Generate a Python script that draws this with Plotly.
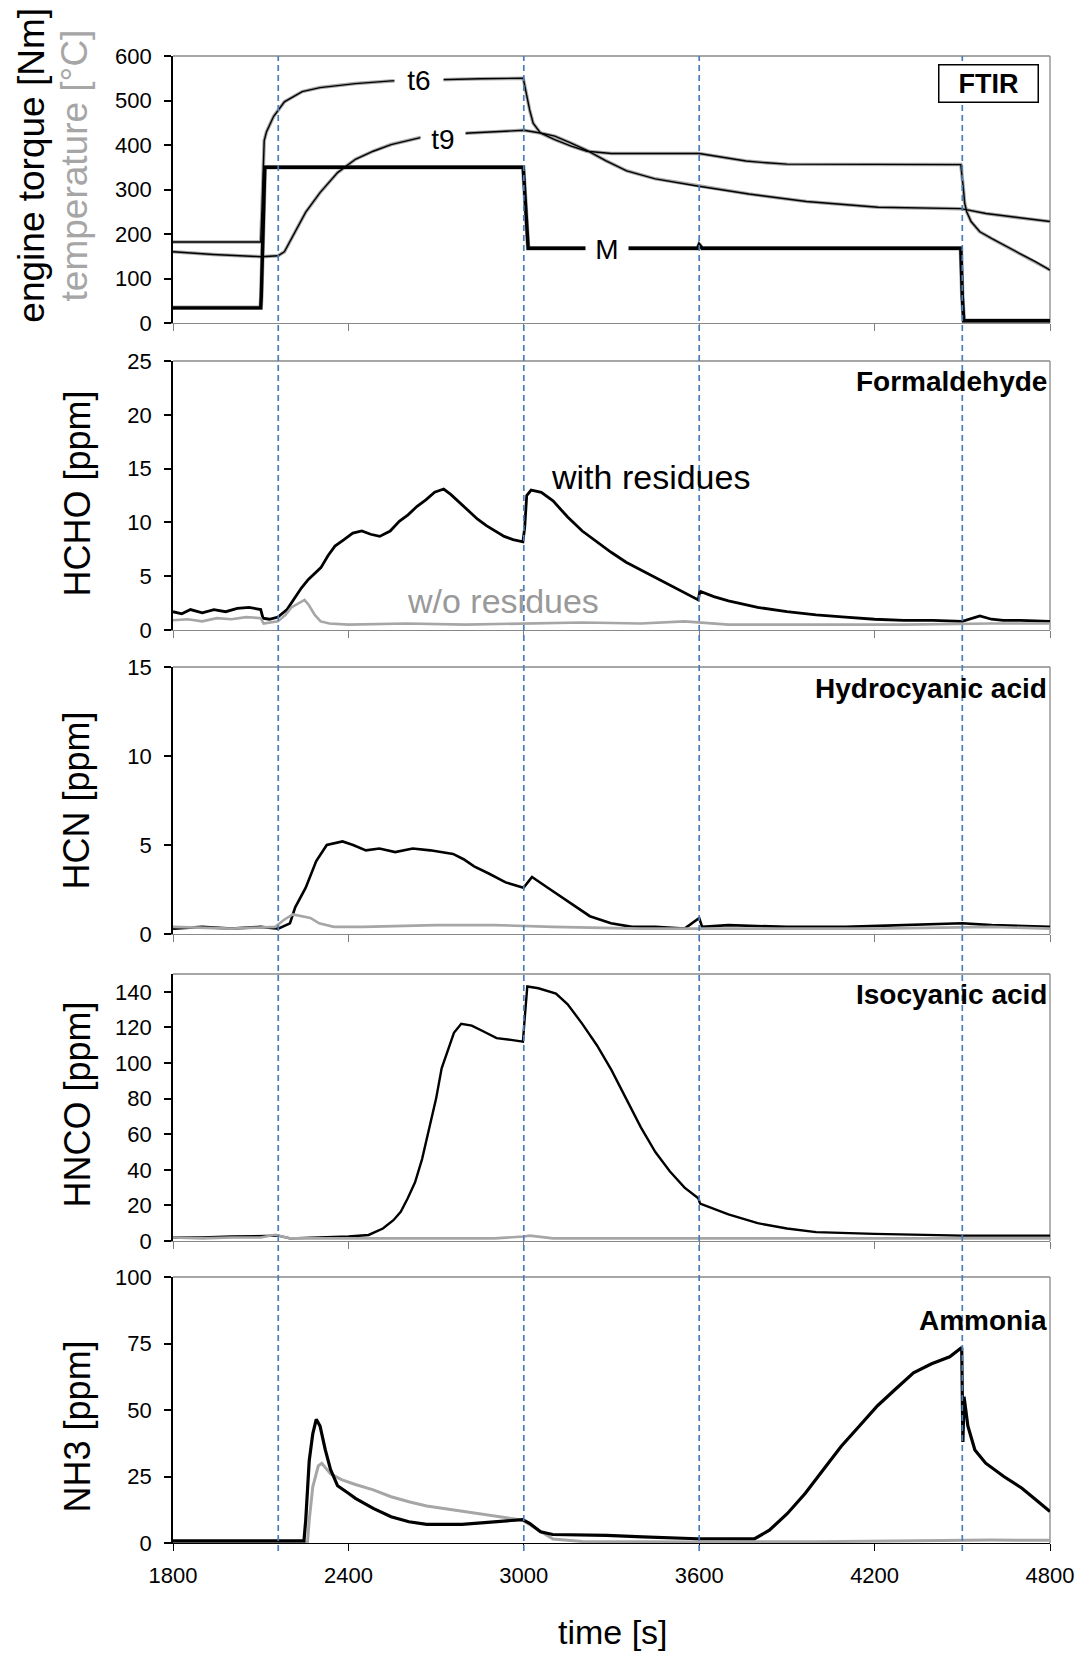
import plotly.graph_objects as go

# ---------------------------------------------------------------- data
TIME_TICKS = [1800, 2400, 3000, 3600, 4200, 4800]
EVENT_TIMES = [2160, 3000, 3600, 4500]

# Panel 1: engine torque M [Nm] and exhaust temperatures t6, t9 [°C]
TORQUE_TIME = [1800, 2100, 2102, 2108, 2114, 2998, 3003, 3008, 3015, 3595, 3600, 3610,
               4495, 4500, 4505, 4800]
TORQUE_NM = [34, 34, 60, 250, 350, 350, 300, 240, 168, 168, 176, 168,
             168, 60, 5, 5]

T6_TIME = [1800, 2100, 2104, 2108, 2112, 2120, 2144, 2181, 2242, 2303, 2424, 2546, 2700,
           2850, 2998, 3004, 3010, 3020, 3032, 3057, 3106, 3160, 3216, 3300, 3600, 3650,
           3700, 3760, 3830, 3900, 4495, 4500, 4504, 4508, 4515, 4530, 4560, 4600, 4650,
           4700, 4750, 4800]
T6_TEMP = [182, 182, 250, 350, 410, 430, 464, 497, 520, 529, 538, 544, 547,
           549, 550, 530, 516, 479, 449, 427, 412, 398, 386, 381, 381, 376,
           370, 364, 360, 357, 356, 330, 300, 270, 250, 228, 205, 190, 172,
           155, 138, 119]

T9_TIME = [1800, 1938, 2102, 2159, 2181, 2217, 2254, 2303, 2363, 2424, 2485, 2546, 2668,
           2814, 3000, 3057, 3106, 3160, 3216, 3280, 3352, 3450, 3593, 3770, 3967, 4212,
           4495, 4581, 4700, 4800]
T9_TEMP = [160, 154, 149, 151, 160, 204, 249, 293, 338, 368, 386, 401, 420,
           427, 433, 427, 420, 405, 388, 365, 342, 324, 308, 290, 273, 260,
           257, 246, 236, 228]

# Panel 2: formaldehyde HCHO [ppm]
HCHO_WITH_TIME = [1800, 1830, 1860, 1900, 1940, 1980, 2020, 2060, 2100, 2108, 2130, 2159,
                  2190, 2220, 2239, 2263, 2287, 2306, 2330, 2354, 2385, 2415, 2446, 2476,
                  2507, 2543, 2574, 2604, 2635, 2665, 2695, 2726, 2750, 2781, 2811, 2842,
                  2872, 2903, 2933, 2963, 2997, 3003, 3010, 3025, 3060, 3100, 3150, 3200,
                  3250, 3300, 3350, 3400, 3450, 3500, 3550, 3597, 3602, 3650, 3700, 3800,
                  3900, 4000, 4100, 4200, 4300, 4400, 4500, 4560, 4600, 4640, 4700, 4800]
HCHO_WITH = [1.7, 1.5, 1.9, 1.6, 1.9, 1.7, 2.0, 2.1, 1.9, 1.1, 1.0, 1.2,
             1.9, 3.1, 3.9, 4.7, 5.3, 5.8, 6.9, 7.8, 8.4, 9.0, 9.2, 8.9,
             8.7, 9.2, 10.1, 10.7, 11.5, 12.1, 12.8, 13.1, 12.6, 11.8, 11.1, 10.3,
             9.7, 9.2, 8.7, 8.4, 8.2, 9.5, 12.5, 13.0, 12.8, 12.0, 10.5, 9.2,
             8.2, 7.2, 6.3, 5.6, 4.9, 4.2, 3.5, 2.8, 3.6, 3.1, 2.7, 2.1,
             1.7, 1.4, 1.2, 1.0, 0.9, 0.9, 0.8, 1.3, 1.0, 0.9, 0.9, 0.8]

HCHO_WO_TIME = [1800, 1850, 1900, 1950, 2000, 2050, 2100, 2110, 2159, 2185, 2205, 2230,
                2250, 2265, 2285, 2305, 2335, 2400, 2600, 2800, 3000, 3200, 3400, 3550,
                3700, 4000, 4300, 4600, 4800]
HCHO_WO = [0.9, 1.0, 0.8, 1.1, 1.0, 1.2, 1.1, 0.6, 0.8, 1.4, 2.1, 2.5,
           2.8, 2.3, 1.4, 0.8, 0.6, 0.5, 0.6, 0.5, 0.6, 0.7, 0.6, 0.8,
           0.5, 0.5, 0.5, 0.6, 0.6]

# Panel 3: hydrocyanic acid HCN [ppm]
HCN_WITH_TIME = [1800, 1900, 2000, 2100, 2160, 2200, 2218, 2254, 2290, 2326, 2380, 2416,
                 2460, 2506, 2560, 2620, 2680, 2722, 2758, 2794, 2830, 2880, 2938, 2999,
                 3028, 3082, 3154, 3226, 3298, 3370, 3450, 3550, 3600, 3610, 3700, 3900,
                 4100, 4300, 4500, 4600, 4800]
HCN_WITH = [0.3, 0.4, 0.3, 0.4, 0.3, 0.6, 1.5, 2.6, 4.1, 5.0, 5.2, 5.0,
            4.7, 4.8, 4.6, 4.8, 4.7, 4.6, 4.5, 4.2, 3.8, 3.4, 2.9, 2.6,
            3.2, 2.6, 1.8, 1.0, 0.6, 0.4, 0.4, 0.3, 0.9, 0.4, 0.5, 0.4,
            0.4, 0.5, 0.6, 0.5, 0.4]

HCN_WO_TIME = [1800, 2000, 2150, 2180, 2210, 2240, 2270, 2300, 2350, 2450, 2700, 2900,
               3100, 3400, 3800, 4200, 4600, 4800]
HCN_WO = [0.4, 0.3, 0.4, 0.8, 1.1, 1.0, 0.9, 0.6, 0.4, 0.4, 0.5, 0.5,
          0.4, 0.3, 0.3, 0.3, 0.4, 0.3]

# Panel 4: isocyanic acid HNCO [ppm]
HNCO_WITH_TIME = [1800, 1900, 2000, 2100, 2160, 2200, 2300, 2400, 2469, 2518, 2554, 2579,
                  2603, 2628, 2652, 2676, 2700, 2719, 2737, 2761, 2786, 2822, 2859, 2907,
                  2956, 2997, 3003, 3012, 3050, 3110, 3150, 3200, 3250, 3300, 3350, 3400,
                  3450, 3500, 3550, 3597, 3603, 3650, 3700, 3800, 3900, 4000, 4200, 4500,
                  4800]
HNCO_WITH = [2, 2, 2.5, 3, 3, 1.5, 2, 2.5, 3.4, 7, 11.7, 16.4,
             24, 33, 46, 63, 80, 97, 106, 117, 122, 121, 118, 114,
             113, 112, 125, 143, 142, 139, 133, 122, 110, 96, 80, 64,
             50, 39, 30, 24, 21, 18, 15, 10, 7, 5, 4, 3,
             3]

HNCO_WO_TIME = [1800, 1900, 2000, 2100, 2150, 2200, 2300, 2500, 2700, 2900, 3000, 3020,
                3100, 3300, 3600, 4000, 4400, 4800]
HNCO_WO = [2, 1.5, 2, 2, 3.5, 1.5, 1.5, 1.5, 1.8, 1.5, 2.5, 3,
           1.5, 1.5, 1.2, 1.2, 1.5, 1.5]

# Panel 5: ammonia NH3 [ppm]
NH3_WITH_TIME = [1800, 2000, 2200, 2248, 2254, 2266, 2278, 2290, 2303, 2321, 2339, 2363,
                 2400, 2424, 2485, 2546, 2607, 2668, 2789, 2911, 2996, 3021, 3057, 3099,
                 3200, 3284, 3407, 3593, 3790, 3840, 3901, 3963, 4025, 4086, 4148, 4210,
                 4272, 4333, 4395, 4457, 4498, 4502, 4506, 4519, 4543, 4580, 4642, 4704,
                 4765, 4800]
NH3_WITH = [0.8, 0.8, 0.8, 0.8, 8.6, 31, 41, 46.5, 44, 35, 27.6, 21.5,
            18.7, 16.8, 13, 9.9, 8, 7, 7, 8, 8.8, 7.3, 4.2, 3.2,
            3.0, 2.9, 2.3, 1.6, 1.6, 4.8, 11, 18.7, 27.6, 36.4, 44, 51.6,
            57.9, 64, 67.4, 70, 73.5, 38, 55, 44, 35, 30, 25, 20.6,
            15, 11.8]

NH3_WO_TIME = [1800, 2000, 2260, 2266, 2278, 2297, 2309, 2339, 2376, 2424, 2485, 2546,
               2607, 2668, 2789, 2911, 2972, 2996, 3033, 3069, 3100, 3200, 3600, 4000,
               4400, 4600, 4800]
NH3_WO = [0.3, 0.3, 0.3, 8.6, 21, 29, 30, 26, 23.8, 22, 20, 17.4,
          15.5, 13.9, 12, 10, 9.2, 8.6, 6, 3.5, 1.5, 0.6, 0.4, 0.5,
          0.9, 1.1, 1.0]

Y_TITLES = ["HCHO [ppm]", "HCN [ppm]", "HNCO [ppm]", "NH3 [ppm]"]
SPECIES = ["Formaldehyde", "Hydrocyanic acid", "Isocyanic acid", "Ammonia"]
Y_RANGES = [[0, 600], [0, 25], [0, 15], [0, 150], [0, 100]]
Y_TICKS = [list(range(0, 601, 100)), list(range(0, 26, 5)), list(range(0, 16, 5)),
           list(range(0, 141, 20)), list(range(0, 101, 25))]

# ---------------------------------------------------------------- layout geometry
W, H = 1086, 1657
L, R, T, B = 173, 32, 56, 114
PW, PH = W - L - R, H - T - B
PANELS_PX = [(56, 323), (361, 630), (667, 934), (974, 1241), (1277, 1543)]


def px_x(px):
    return (px - L) / PW


def px_y(py):
    return (H - B - py) / PH


FONT = "Liberation Sans, Arial, sans-serif"
BLACK = "#000000"
GREY = "#a6a6a6"
BORDER = "#888888"
EVENT_BLUE = "#4a7ebb"

fig = go.Figure()


def add_line(i, xs, ys, color, width):
    fig.add_trace(go.Scatter(
        x=xs, y=ys, mode="lines", line=dict(color=color, width=width),
        xaxis="x" if i == 1 else f"x{i}", yaxis="y" if i == 1 else f"y{i}",
        hoverinfo="skip", showlegend=False))


# panel 1: grey run underneath, black run on top
add_line(1, T6_TIME, T6_TEMP, GREY, 3.5)
add_line(1, T9_TIME, T9_TEMP, GREY, 3.5)
add_line(1, TORQUE_TIME, TORQUE_NM, GREY, 4.5)
add_line(1, T6_TIME, T6_TEMP, BLACK, 1.4)
add_line(1, T9_TIME, T9_TEMP, BLACK, 1.4)
add_line(1, TORQUE_TIME, TORQUE_NM, BLACK, 3.4)

# gas panels: with residues (black) and without residues (grey)
add_line(2, HCHO_WITH_TIME, HCHO_WITH, BLACK, 2.8)
add_line(2, HCHO_WO_TIME, HCHO_WO, GREY, 2.6)
add_line(3, HCN_WITH_TIME, HCN_WITH, BLACK, 2.6)
add_line(3, HCN_WO_TIME, HCN_WO, GREY, 2.6)
add_line(4, HNCO_WITH_TIME, HNCO_WITH, BLACK, 2.4)
add_line(4, HNCO_WO_TIME, HNCO_WO, GREY, 2.6)
add_line(5, NH3_WO_TIME, NH3_WO, GREY, 3.0)
add_line(5, NH3_WITH_TIME, NH3_WITH, BLACK, 3.2)

layout = dict(
    width=W, height=H, margin=dict(l=L, r=R, t=T, b=B, pad=0),
    paper_bgcolor="white", plot_bgcolor="white", showlegend=False,
    font=dict(family=FONT, color=BLACK, size=22),
)

shapes = []
for i, (top, bot) in enumerate(PANELS_PX, start=1):
    sx = "" if i == 1 else str(i)
    last = i == len(PANELS_PX)
    layout[f"xaxis{sx}"] = dict(
        domain=[0, 1], anchor=f"y{sx}", range=[1800, 4800],
        tickmode="array", tickvals=TIME_TICKS, showticklabels=last,
        ticks="outside", ticklen=7, tickwidth=1.3,
        tickcolor=BLACK if last else "#7f7f7f",
        showline=True, linecolor=BLACK if last else BORDER, linewidth=1.3,
        showgrid=False, zeroline=False,
        tickfont=dict(size=22, family=FONT), ticklabelstandoff=5,
    )
    layout[f"yaxis{sx}"] = dict(
        domain=[px_y(bot), px_y(top)], anchor=f"x{sx}", range=Y_RANGES[i - 1],
        tickmode="array", tickvals=Y_TICKS[i - 1],
        ticks="outside", ticklen=7, tickwidth=1.5, tickcolor=BLACK,
        showline=True, linecolor=BLACK, linewidth=1.6,
        showgrid=False, zeroline=False,
        tickfont=dict(size=22, family=FONT), ticklabelstandoff=8,
    )
    # grey top and right frame
    shapes.append(dict(type="line", xref="paper", yref="paper", x0=0, x1=1,
                       y0=px_y(top), y1=px_y(top), line=dict(color=BORDER, width=1.3),
                       layer="below"))
    shapes.append(dict(type="line", xref="paper", yref="paper", x0=1, x1=1,
                       y0=px_y(bot), y1=px_y(top), line=dict(color=BORDER, width=1.3),
                       layer="below"))

# dashed event markers running through all panels
for t in EVENT_TIMES:
    shapes.append(dict(type="line", xref="x5", yref="paper", x0=t, x1=t,
                       y0=px_y(1551), y1=px_y(PANELS_PX[0][0]),
                       line=dict(color=EVENT_BLUE, width=1.7, dash="6px,4px"),
                       layer="above"))
layout["shapes"] = shapes

ann = []
# axis titles
ann.append(dict(text="engine torque [Nm]", x=px_x(30), y=px_y(165), xref="paper",
                yref="paper", textangle=-90, showarrow=False, xanchor="center",
                yanchor="middle", font=dict(size=37, color=BLACK, family=FONT)))
ann.append(dict(text="temperature [°C]", x=px_x(74), y=px_y(165), xref="paper",
                yref="paper", textangle=-90, showarrow=False, xanchor="center",
                yanchor="middle", font=dict(size=37, color=GREY, family=FONT)))
for title, cy in zip(Y_TITLES, [493, 800, 1104, 1426]):
    ann.append(dict(text=title, x=px_x(77), y=px_y(cy), xref="paper", yref="paper",
                    textangle=-90, showarrow=False, xanchor="center", yanchor="middle",
                    font=dict(size=36, color=BLACK, family=FONT)))
ann.append(dict(text="time [s]", x=px_x(615), y=px_y(1632), xref="paper", yref="paper",
                showarrow=False, xanchor="center", yanchor="middle",
                font=dict(size=34, color=BLACK, family=FONT)))

# species names, right aligned in each panel
for name, cy in zip(SPECIES, [381, 688, 994, 1320]):
    ann.append(dict(text=f"<b>{name}</b>", x=px_x(1053), y=px_y(cy), xref="paper",
                    yref="paper", showarrow=False, xanchor="right", yanchor="middle",
                    font=dict(size=28, color=BLACK, family=FONT)))

# instrument box
ann.append(dict(text="<b>FTIR</b>", x=px_x(992), y=px_y(84), xref="paper", yref="paper",
                showarrow=False, xanchor="center", yanchor="middle",
                font=dict(size=27, color=BLACK, family=FONT),
                bgcolor="white", bordercolor=BLACK, borderwidth=1.5, borderpad=2,
                width=94, height=32))

# curve labels in panel 1 (white box interrupts the line)
for txt, tx, ty, w in [("t6", 2643, 547, 46), ("t9", 2724, 414, 42), ("M", 3284, 167, 40)]:
    ann.append(dict(text=txt, x=tx, y=ty, xref="x", yref="y", showarrow=False,
                    xanchor="center", yanchor="middle", bgcolor="white",
                    width=w, height=28, font=dict(size=28, color=BLACK, family=FONT)))

# run labels in the formaldehyde panel
ann.append(dict(text="with residues", x=3432, y=14.2, xref="x2", yref="y2",
                showarrow=False, xanchor="center", yanchor="middle",
                font=dict(size=34, color=BLACK, family=FONT)))
ann.append(dict(text="w/o residues", x=2930, y=2.7, xref="x2", yref="y2",
                showarrow=False, xanchor="center", yanchor="middle",
                font=dict(size=34, color="#999999", family=FONT)))
layout["annotations"] = ann

fig.update_layout(**layout)
fig.write_html("out.html")
